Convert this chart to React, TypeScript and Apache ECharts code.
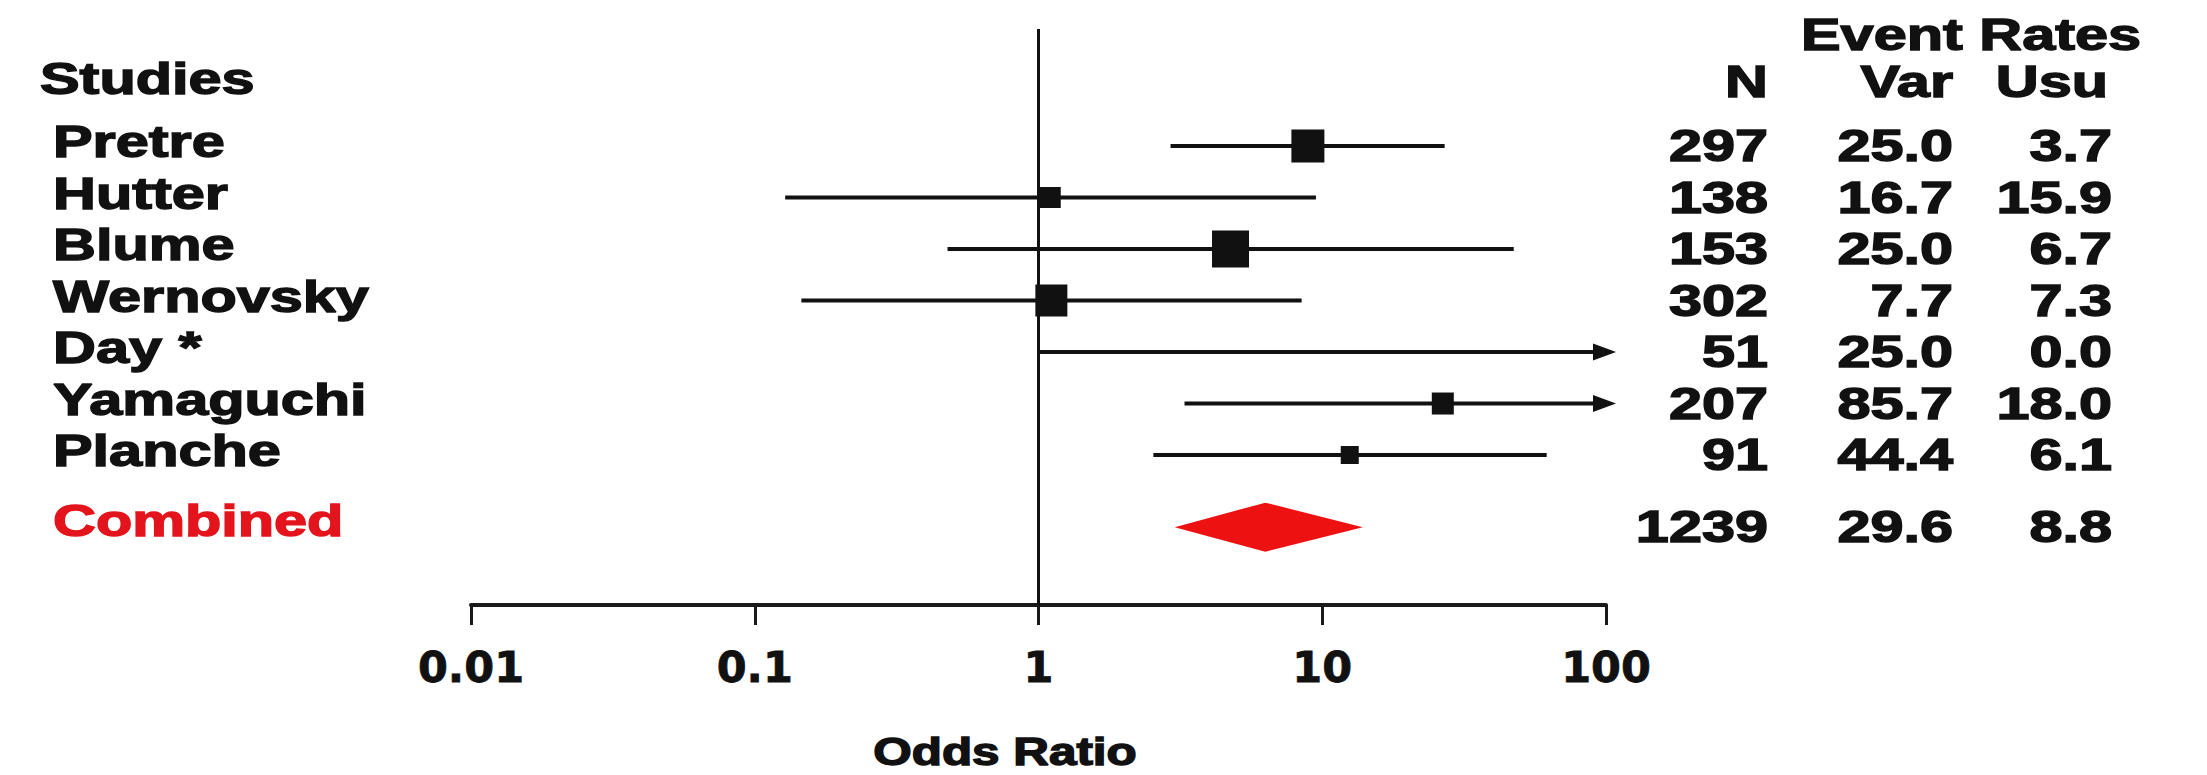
import React, { useEffect, useRef } from "react";
import * as echarts from "echarts";

// Study-level results (odds ratio with 95% CI, plotted on a log axis)
const studies = ["Pretre", "Hutter", "Blume", "Wernovsky", "Day *", "Yamaguchi", "Planche"];
const oddsRatio: (number | null)[] = [8.9, 1.1, 4.75, 1.11, null, 26.6, 12.5];
const ciLower = [2.92, 0.128, 0.478, 0.146, 1.0, 3.27, 2.54];
// null: the interval runs past the right end of the axis (drawn as an arrow)
const ciUpper: (number | null)[] = [27.0, 9.5, 47.3, 8.46, null, null, 61.8];
// relative study weights (box size)
const weights = [16.5, 10.5, 18.5, 16, 0, 11, 9];

// Table columns
const sampleN = [297, 138, 153, 302, 51, 207, 91];
const rateVar = [25.0, 16.7, 25.0, 7.7, 25.0, 85.7, 44.4];
const rateUsu = [3.7, 15.9, 6.7, 7.3, 0.0, 18.0, 6.1];

// Pooled estimate
const combinedLabel = "Combined";
const combinedOR = 6.3;
const combinedLower = 3.02;
const combinedUpper = 13.9;
const combinedN = 1239;
const combinedVar = 29.6;
const combinedUsu = 8.8;

const xTickLabels = ["0.01", "0.1", "1", "10", "100"];

// ---- layout / style ----
const X_MIN = 0.01;
const X_MAX = 100;
const COMBINED_ROW = studies.length + 0.4;
const FONT = '"Liberation Sans", Arial, Helvetica, sans-serif';
const TEXT_SIZE = 44;
const STRETCH = 1.35;
const INK = "#111111";
const RED = "#ee1111";
const LABEL_X = 53;
const COL_N = 1768;
const COL_VAR = 1953;
const COL_USU = 2112;

function txt(text: string, x: number, y: number, align: string, opts: any = {}) {
  const size = opts.size ?? TEXT_SIZE;
  const color = opts.color ?? INK;
  return {
    type: "text",
    x,
    y,
    scaleX: opts.stretch ?? STRETCH,
    silent: true,
    style: {
      text,
      font: `bold ${size}px ${FONT}`,
      fill: color,
      stroke: color,
      lineWidth: 1.4,
      align,
      verticalAlign: "middle",
      textAlign: align,
      textVerticalAlign: "middle",
    },
  };
}

export default function App() {
  const ref = useRef<HTMLDivElement>(null);

  useEffect(() => {
    if (!ref.current) return;
    const chart = echarts.init(ref.current, null, { renderer: "svg" });

    const studyItem = (params: any, api: any) => {
      const i = params.dataIndex;
      const y = api.coord([1, i])[1];
      const xLo = api.coord([ciLower[i], i])[0];
      const hi = ciUpper[i];
      const xHi = api.coord([hi ?? X_MAX, i])[0];
      const children: any[] = [
        {
          type: "line",
          shape: { x1: xLo, y1: y, x2: xHi, y2: y },
          style: { stroke: INK, lineWidth: 4 },
        },
      ];
      if (hi == null) {
        children.push({
          type: "polygon",
          shape: { points: [[xHi + 10, y], [xHi - 13, y - 8.5], [xHi - 13, y + 8.5]] },
          style: { fill: INK },
        });
      }
      const or = oddsRatio[i];
      if (or != null) {
        const side = weights[i] * 2;
        const xc = api.coord([or, i])[0];
        children.push({
          type: "rect",
          shape: { x: xc - side / 2, y: y - side / 2, width: side, height: side },
          style: { fill: INK },
        });
      }
      children.push(txt(studies[i], LABEL_X, y - 4, "left"));
      children.push(txt(String(sampleN[i]), COL_N, y, "right"));
      children.push(txt(rateVar[i].toFixed(1), COL_VAR, y, "right"));
      children.push(txt(rateUsu[i].toFixed(1), COL_USU, y, "right"));
      return { type: "group", children };
    };

    const combinedItem = (params: any, api: any) => {
      const r = COMBINED_ROW;
      const [xc, y] = api.coord([combinedOR, r]);
      const xLo = api.coord([combinedLower, r])[0];
      const xHi = api.coord([combinedUpper, r])[0];
      const h = 24.5;
      return {
        type: "group",
        children: [
          {
            type: "polygon",
            shape: { points: [[xLo, y], [xc, y - h], [xHi, y], [xc, y + h]] },
            style: { fill: RED },
          },
          txt(combinedLabel, LABEL_X, y - 6, "left", { color: "#e3141b" }),
          txt(String(combinedN), COL_N, y, "right"),
          txt(combinedVar.toFixed(1), COL_VAR, y, "right"),
          txt(combinedUsu.toFixed(1), COL_USU, y, "right"),
        ],
      };
    };

    chart.setOption({
      animation: false,
      backgroundColor: "#ffffff",
      grid: { left: 471, right: 601, top: 29, bottom: 170, containLabel: false },
      xAxis: {
        type: "log",
        logBase: 10,
        min: X_MIN,
        max: X_MAX,
        splitNumber: 4,
        axisLine: { show: true, onZero: false, lineStyle: { color: "#1a1a1a", width: 4 } },
        axisTick: { show: true, length: 20, lineStyle: { color: "#1a1a1a", width: 3 } },
        minorTick: { show: false },
        splitLine: { show: false },
        axisLabel: {
          margin: 40,
          color: INK,
          fontFamily: '"DejaVu Sans", sans-serif',
          fontWeight: "bold",
          fontSize: 43,
          textBorderColor: INK,
          textBorderWidth: 0.8,
          formatter: (v: number) => xTickLabels[Math.round(Math.log10(v)) + 2] ?? "",
        },
      },
      yAxis: {
        type: "value",
        inverse: true,
        min: -2.272,
        max: 8.912,
        show: false,
      },
      series: [
        {
          type: "custom",
          name: "studies",
          clip: false,
          silent: true,
          data: studies.map((_, i) => [ciLower[i], i]),
          renderItem: studyItem,
          markLine: {
            silent: true,
            symbol: ["none", "none"],
            label: { show: false },
            lineStyle: { color: INK, width: 3, type: "solid" },
            data: [{ xAxis: 1 }],
          },
        },
        {
          type: "custom",
          name: "combined",
          clip: false,
          silent: true,
          data: [[combinedOR, COMBINED_ROW]],
          renderItem: combinedItem,
        },
      ],
      graphic: [
        txt("Studies", 40, 79, "left"),
        txt("Event Rates", 1971, 35, "center"),
        txt("N", COL_N, 82, "right"),
        txt("Var", COL_VAR, 82, "right"),
        txt("Usu", 2108, 82, "right"),
        txt("Odds Ratio", 1005, 752, "center", { size: 38, stretch: 1.3 }),
      ],
    });

    return () => chart.dispose();
  }, []);

  return (
    <div
      ref={ref}
      style={{ position: "absolute", left: 0, top: 0, width: 2207, height: 775, background: "#fff" }}
    />
  );
}
